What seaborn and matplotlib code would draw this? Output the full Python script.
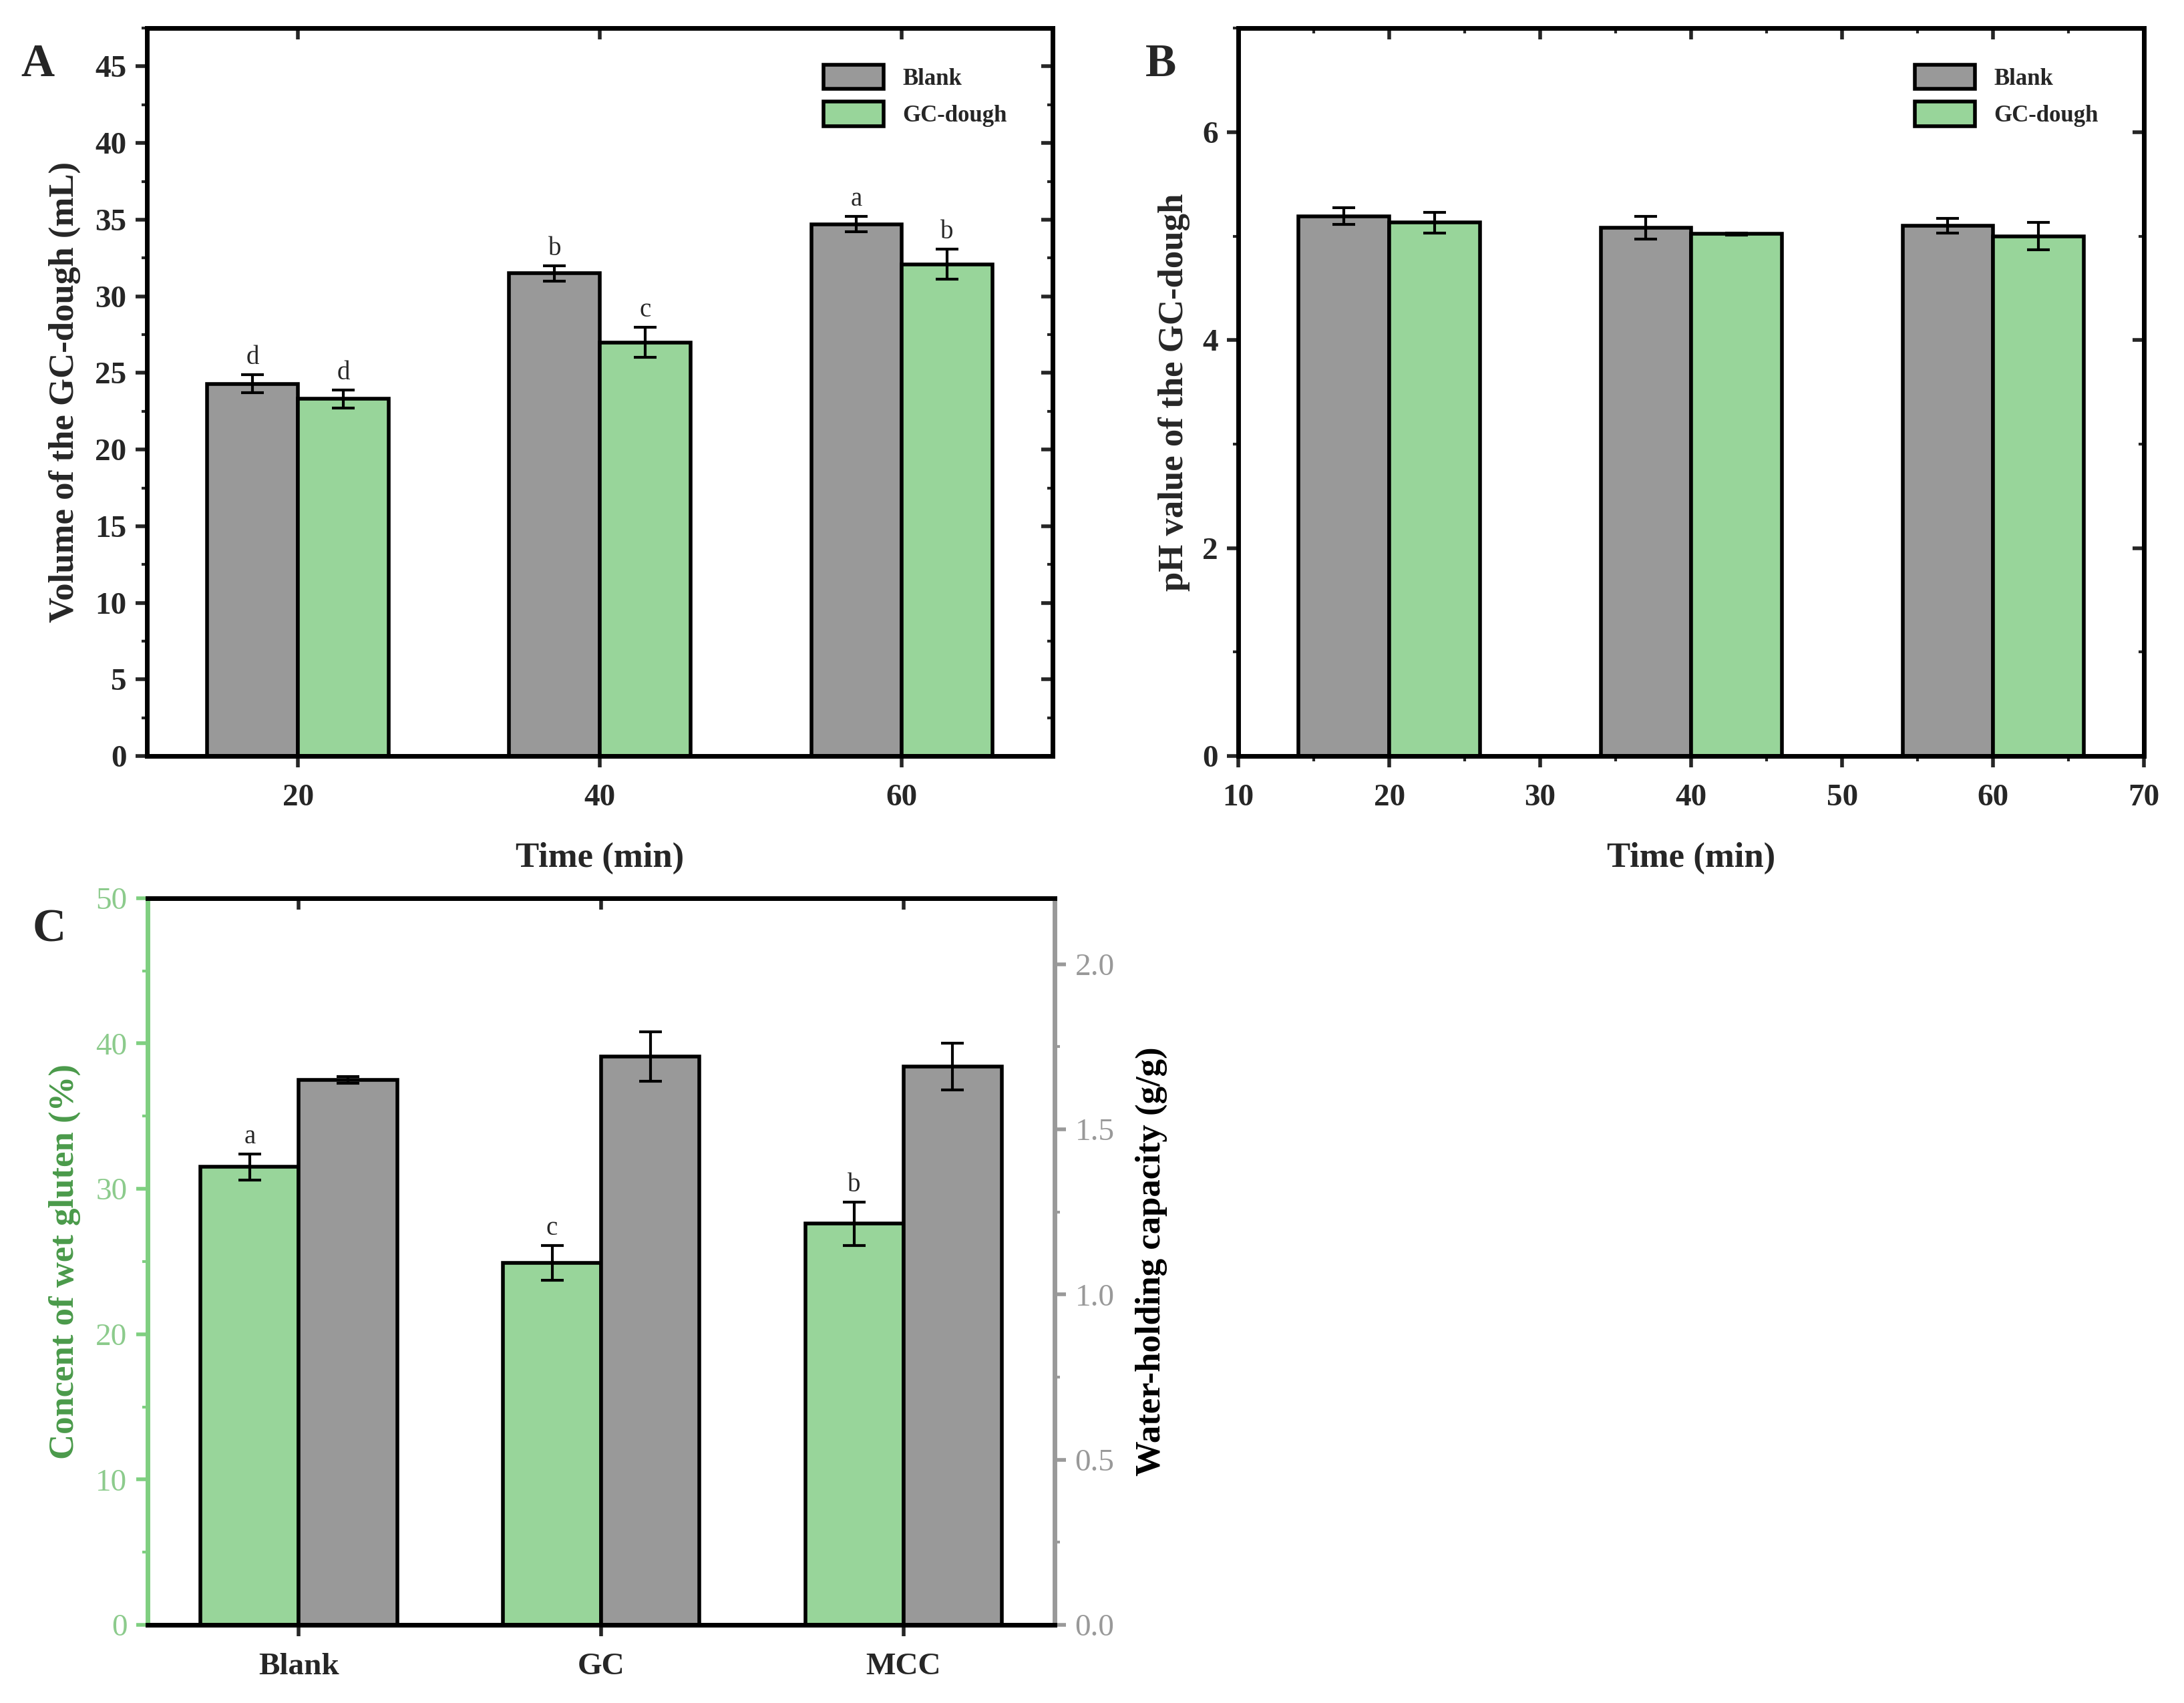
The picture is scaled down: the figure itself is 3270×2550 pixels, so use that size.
import numpy as np
import pandas as pd
import matplotlib
matplotlib.use("Agg")
import matplotlib.pyplot as plt
from matplotlib.patches import Patch
from matplotlib.container import BarContainer
from matplotlib.ticker import MultipleLocator
import seaborn as sns

# ---------------- data ----------------
times = [20, 40, 60]
groups = ["Blank", "GC-dough"]

vol_blank = [24.3, 31.5, 34.7]
vol_blank_err = [0.6, 0.5, 0.5]
vol_gc = [23.3, 27.0, 32.1]
vol_gc_err = [0.6, 1.0, 1.0]
vol_letters_blank = ["d", "b", "a"]
vol_letters_gc = ["d", "c", "b"]

ph_blank = [5.19, 5.08, 5.10]
ph_blank_err = [0.08, 0.11, 0.07]
ph_gc = [5.13, 5.02, 5.00]
ph_gc_err = [0.10, 0.01, 0.13]

samples = ["Blank", "GC", "MCC"]
gluten = [31.5, 24.9, 27.6]
gluten_err = [0.9, 1.2, 1.5]
gluten_letters = ["a", "c", "b"]
whc = [1.65, 1.72, 1.69]
whc_err = [0.01, 0.075, 0.07]

# ---------------- style ----------------
sns.set_style("ticks")
plt.rcParams["font.family"] = ["Liberation Serif", "DejaVu Serif"]
plt.rcParams["font.weight"] = "bold"
plt.rcParams["axes.labelweight"] = "bold"

GRAY = "#999999"
GREEN = "#98D59A"
GREEN_AX = "#7FCF80"
GREEN_TXT = "#8CCB8C"
GREEN_LAB = "#4A9A4A"
TICK_FS = 34
LAB_FS = 38
SPINE_LW = 5
EDGE_LW = 4
palette = {"Blank": GRAY, "GC-dough": GREEN}

fig = plt.figure(figsize=(32.7, 25.5), dpi=100)
axA = fig.add_axes([0.0673, 0.556, 0.4147, 0.4275])
axB = fig.add_axes([0.567, 0.556, 0.4147, 0.4275])
axC = fig.add_axes([0.0676, 0.0459, 0.4153, 0.4267])


def bar_patches(ax):
    ps = [p for c in ax.containers if isinstance(c, BarContainer)
          for p in c.patches if np.isfinite(p.get_height()) and p.get_height() > 0]
    return ps


def style_box(ax, color="black"):
    for s in ax.spines.values():
        s.set_linewidth(SPINE_LW)
        s.set_color(color)
        s.set_visible(True)


def grouped(ax, b, be, g, ge):
    df = pd.DataFrame({
        "time": times * 2,
        "value": list(b) + list(g),
        "group": [groups[0]] * 3 + [groups[1]] * 3,
    })
    sns.barplot(data=df, x="time", y="value", hue="group", hue_order=groups,
                native_scale=True, width=0.6, palette=palette, dodge=True,
                edgecolor="black", linewidth=EDGE_LW, errorbar=None,
                legend=False, ax=ax, saturation=1)
    ps = bar_patches(ax)
    cols = []
    for gname, vals, errs in zip(groups, [b, g], [be, ge]):
        col = matplotlib.colors.to_rgba(palette[gname])
        sel = sorted([p for p in ps if np.allclose(p.get_facecolor(), col, atol=0.02)],
                     key=lambda p: p.get_x())
        xs = [p.get_x() + p.get_width() / 2 for p in sel]
        ax.errorbar(xs, vals, yerr=errs, fmt="none", ecolor="black",
                    elinewidth=3, capsize=12, capthick=3, zorder=5)
        cols.append(xs)
    return cols


def legend(ax):
    handles = [Patch(facecolor=palette[g], edgecolor="black", linewidth=EDGE_LW, label=g)
               for g in groups]
    ax.legend(handles=handles, loc="upper left", bbox_to_anchor=(0.747, 0.95),
              frameon=False, borderaxespad=0, borderpad=0,
              handlelength=2.6, handleheight=1.25, labelspacing=0.5,
              handletextpad=0.8, prop={"weight": "bold", "size": 25})


def box_ticks(ax, xmajor, ymajor, xminor=None, yminor=None):
    ax.tick_params(axis="both", which="major", direction="out", length=12,
                   width=4, labelsize=TICK_FS)
    ax.tick_params(axis="x", which="major", pad=18)
    ax.tick_params(axis="y", which="major", pad=10)
    ax.tick_params(axis="both", which="minor", direction="out", length=6, width=3)
    top = ax.secondary_xaxis("top")
    right = ax.secondary_yaxis("right")
    for sec, maj, mnr in [(top, xmajor, xminor), (right, ymajor, yminor)]:
        sec.set_ticks(maj)
        if mnr is not None:
            sec.set_ticks(mnr, minor=True)
        sec.tick_params(which="major", direction="in", length=12, width=4,
                        labelcolor="none")
        sec.tick_params(which="minor", direction="in", length=6, width=3)
        for s in sec.spines.values():
            s.set_linewidth(SPINE_LW)


# ---------------- panel A ----------------
xsA = grouped(axA, vol_blank, vol_blank_err, vol_gc, vol_gc_err)
axA.set_xlim(10, 70)
axA.set_ylim(0, 47.5)
axA.set_xticks(times)
axA.set_yticks(np.arange(0, 46, 5))
axA.yaxis.set_minor_locator(MultipleLocator(2.5))
box_ticks(axA, times, list(np.arange(0, 46, 5)), None, list(np.arange(2.5, 47.5, 5)))
style_box(axA)
for xs, vals, errs, lets in zip(xsA, [vol_blank, vol_gc], [vol_blank_err, vol_gc_err],
                                [vol_letters_blank, vol_letters_gc]):
    for x, v, e, l in zip(xs, vals, errs, lets):
        axA.text(x, v + e + 0.3, l, ha="center", va="bottom", fontsize=28,
                 fontweight="normal")
axA.set_xlabel("Time (min)", fontsize=LAB_FS)
axA.set_ylabel("Volume of the GC-dough (mL)", fontsize=LAB_FS)
axA.yaxis.set_label_coords(-0.073, 0.5)
axA.xaxis.set_label_coords(0.5, -0.118)
legend(axA)

# ---------------- panel B ----------------
grouped(axB, ph_blank, ph_blank_err, ph_gc, ph_gc_err)
axB.set_xlim(10, 70)
axB.set_ylim(0, 7)
axB.set_xticks(np.arange(10, 71, 10))
axB.xaxis.set_minor_locator(MultipleLocator(5))
axB.set_yticks([0, 2, 4, 6])
axB.yaxis.set_minor_locator(MultipleLocator(1))
box_ticks(axB, list(np.arange(10, 71, 10)), [0, 2, 4, 6],
          list(np.arange(15, 70, 10)), [1, 3, 5, 7])
style_box(axB)
axB.set_xlabel("Time (min)", fontsize=LAB_FS)
axB.set_ylabel("pH value of the GC-dough", fontsize=LAB_FS)
axB.yaxis.set_label_coords(-0.053, 0.5)
axB.xaxis.set_label_coords(0.5, -0.118)
legend(axB)

# ---------------- panel C ----------------
series = ["Wet gluten", "WHC"]
cpal = {"Wet gluten": GREEN, "WHC": GRAY}
axC2 = axC.twinx()
dfg = pd.DataFrame({"sample": samples, "value": gluten, "series": series[0]})
dfw = pd.DataFrame({"sample": samples, "value": whc, "series": series[1]})
sns.barplot(data=dfg, x="sample", y="value", hue="series", hue_order=series,
            palette=cpal, width=0.65, edgecolor="black", linewidth=EDGE_LW,
            dodge=True, errorbar=None, legend=False, ax=axC, saturation=1)
sns.barplot(data=dfw, x="sample", y="value", hue="series", hue_order=series,
            palette=cpal, width=0.65, edgecolor="black", linewidth=EDGE_LW,
            dodge=True, errorbar=None, legend=False, ax=axC2, saturation=1)
gps = sorted(bar_patches(axC), key=lambda p: p.get_x())
wps = sorted(bar_patches(axC2), key=lambda p: p.get_x())
gx = [p.get_x() + p.get_width() / 2 for p in gps]
wx = [p.get_x() + p.get_width() / 2 for p in wps]
axC.errorbar(gx, gluten, yerr=gluten_err, fmt="none", ecolor="black",
             elinewidth=3, capsize=12, capthick=3, zorder=5)
axC2.errorbar(wx, whc, yerr=whc_err, fmt="none", ecolor="black",
              elinewidth=3, capsize=12, capthick=3, zorder=5)
for x, v, e, l in zip(gx, gluten, gluten_err, gluten_letters):
    axC.text(x, v + e + 0.3, l, ha="center", va="bottom", fontsize=28,
             fontweight="normal")
axC.set_xlim(-0.5, 2.5)
axC.set_ylim(0, 50)
axC2.set_ylim(0, 2.2)
axC.set_yticks(np.arange(0, 51, 10))
axC.yaxis.set_minor_locator(MultipleLocator(5))
axC2.set_yticks(np.arange(0, 2.01, 0.5))
axC2.yaxis.set_minor_locator(MultipleLocator(0.25))
axC2.set_yticklabels([f"{v:.1f}" for v in np.arange(0, 2.01, 0.5)])
for s in axC.spines.values():
    s.set_linewidth(SPINE_LW)
for s in axC2.spines.values():
    s.set_linewidth(SPINE_LW)
axC.spines["left"].set_color(GREEN_AX)
axC2.spines["left"].set_visible(False)
axC2.spines["right"].set_color(GRAY)
axC.spines["right"].set_visible(False)
axC2.spines["top"].set_color("black")
axC2.spines["bottom"].set_color("black")
axC.tick_params(axis="x", which="major", direction="out", length=12, width=4,
                labelsize=TICK_FS, pad=18)
axC.tick_params(axis="y", which="major", direction="out", length=12, width=4,
                labelsize=TICK_FS, colors=GREEN_AX, labelcolor=GREEN_TXT, pad=10)
axC.tick_params(axis="y", which="minor", direction="out", length=6, width=3,
                colors=GREEN_AX)
axC2.tick_params(axis="y", which="major", direction="out", length=12, width=4,
                 labelsize=TICK_FS, colors=GRAY, labelcolor=GRAY, pad=10)
axC2.tick_params(axis="y", which="minor", direction="out", length=6, width=3,
                 colors=GRAY)
for lab in axC.get_yticklabels() + axC2.get_yticklabels():
    lab.set_fontweight("normal")
topC = axC.secondary_xaxis("top")
topC.set_ticks([0, 1, 2])
topC.tick_params(direction="in", length=12, width=4, labelcolor="none")
topC.spines["top"].set_linewidth(SPINE_LW)
axC.set_xlabel("")
axC.set_ylabel("Concent of wet gluten (%)", fontsize=LAB_FS, color=GREEN_LAB)
axC2.set_ylabel("Water-holding capacity (g/g)", fontsize=LAB_FS, color="black")
axC.yaxis.set_label_coords(-0.074, 0.5)
axC2.yaxis.set_label_coords(1.089, 0.5)

# panel letters
fig.text(0.0095, 0.962, "A", fontsize=50, fontweight="bold", va="center", ha="left")
fig.text(0.5245, 0.962, "B", fontsize=50, fontweight="bold", va="center", ha="left")
fig.text(0.0150, 0.454, "C", fontsize=50, fontweight="bold", va="center", ha="left")

fig.savefig("out.png", dpi=100)
